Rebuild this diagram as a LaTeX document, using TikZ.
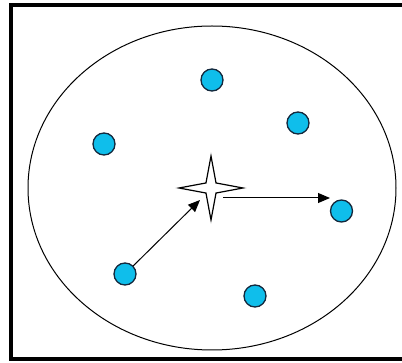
\documentclass[tikz,border=0pt]{standalone}
\usetikzlibrary{shapes.geometric,arrows.meta}
\definecolor{dotfill}{RGB}{15,190,235}
\definecolor{dotline}{RGB}{20,40,60}
\begin{document}
\begin{tikzpicture}[x=1pt,y=-1pt,
  dot/.style={circle,draw=dotline,fill=dotfill,line width=1.3pt,minimum size=22pt,inner sep=0pt},
  conn/.style={line width=1pt,-{Triangle[length=12pt,width=10pt]}}]
\useasboundingbox (0,0) rectangle (402,363);
\begin{scope}
\clip (0,0) rectangle (402,363);
\draw[line width=4pt] (11,5.5) rectangle (406,359.5);
\end{scope}
\draw[line width=1pt] (212,188) ellipse [x radius=184pt, y radius=162pt];
\node[star,star points=4,star point ratio=4.5,minimum size=64pt,inner sep=0pt,draw,line width=1.2pt,fill=white] (s) at (211,188) {};
\node[dot] (c1) at (212,80) {};
\node[dot] (c2) at (298,123) {};
\node[dot] (c3) at (104,144) {};
\node[dot] (c4) at (341.5,211) {};
\node[dot] (c5) at (125,274) {};
\node[dot] (c6) at (255,296) {};
\coordinate (t1) at (200,200);
\coordinate (a2) at (223,198);
\coordinate (t2) at (330,198);
\draw[conn] (c5) -- (t1);
\draw[conn] (a2) -- (t2);
\end{tikzpicture}
\end{document}
